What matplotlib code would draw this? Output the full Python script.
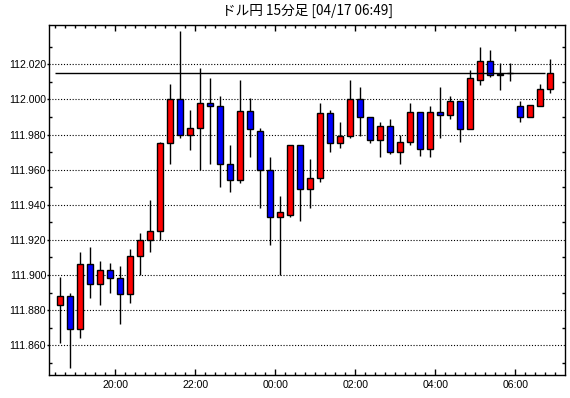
import matplotlib
matplotlib.use("Agg")
import matplotlib.pyplot as plt
import numpy as np
from matplotlib.ticker import FixedLocator, FormatStrFormatter

# ---- data (15-minute candles, USD/JPY) ----
times = ["18:30", "18:45", "19:00", "19:15", "19:30", "19:45", "20:00", "20:15",
         "20:30", "20:45", "21:00", "21:15", "21:30", "21:45", "22:00", "22:15",
         "22:30", "22:45", "23:00", "23:15", "23:30", "23:45", "00:00", "00:15",
         "00:30", "00:45", "01:00", "01:15", "01:30", "01:45", "02:00", "02:15",
         "02:30", "02:45", "03:00", "03:15", "03:30", "03:45", "04:00", "04:15",
         "04:30", "04:45", "05:00", "05:15", "05:30", "05:45", "06:00", "06:15",
         "06:30", "06:45"]
opens = [111.883, 111.888, 111.869, 111.906, 111.895, 111.903, 111.898, 111.889,
         111.911, 111.920, 111.925, 111.975, 112.000, 111.980, 111.9835, 111.998,
         111.9965, 111.9635, 111.954, 111.9935, 111.982, 111.960, 111.933, 111.934,
         111.974, 111.949, 111.955, 111.9925, 111.975, 111.979, 112.0005, 111.990,
         111.977, 111.985, 111.970, 111.9755, 111.993, 111.972, 111.993, 111.991,
         111.999, 111.983, 112.011, 112.0217, 112.0137, 112.015, 111.996, 111.990,
         111.9965, 112.0057]
highs = [111.899, 111.890, 111.913, 111.916, 111.908, 111.907, 111.905, 111.915,
         111.924, 111.943, 111.976, 112.009, 112.039, 111.994, 112.018, 112.012,
         112.002, 111.974, 112.011, 112.001, 111.9835, 111.967, 111.945, 111.974,
         111.974, 111.966, 111.998, 111.994, 111.987, 112.011, 112.007, 111.990,
         111.987, 111.989, 111.980, 111.998, 111.993, 111.996, 112.007, 112.002,
         111.999, 112.0166, 112.030, 112.028, 112.021, 112.021, 111.999, 111.9967,
         112.0088, 112.023]
lows = [111.861, 111.847, 111.864, 111.887, 111.883, 111.890, 111.872, 111.884,
        111.900, 111.913, 111.920, 111.963, 111.978, 111.971, 111.960, 111.963,
        111.950, 111.9475, 111.9525, 111.967, 111.938, 111.917, 111.900, 111.933,
        111.9305, 111.938, 111.9527, 111.970, 111.9725, 111.978, 111.979, 111.9754,
        111.967, 111.969, 111.963, 111.974, 111.968, 111.967, 111.978, 111.989,
        111.976, 111.983, 112.0084, 112.0126, 112.0055, 112.0107, 111.987, 111.990,
        111.996, 112.0038]
closes = [111.888, 111.869, 111.906, 111.895, 111.903, 111.898, 111.889, 111.911,
          111.920, 111.925, 111.975, 112.000, 111.980, 111.9835, 111.998, 111.9965,
          111.9635, 111.954, 111.9935, 111.983, 111.960, 111.933, 111.936, 111.974,
          111.949, 111.955, 111.9925, 111.975, 111.979, 112.0005, 111.990, 111.977,
          111.985, 111.970, 111.9755, 111.993, 111.972, 111.993, 111.991, 111.999,
          111.983, 112.012, 112.0217, 112.0137, 112.0147, 112.015, 111.990, 111.9967,
          112.0057, 112.0149]
y_labels = [111.860, 111.880, 111.900, 111.920, 111.940, 111.960, 111.980, 112.000, 112.020]
y_minor = [111.850, 111.870, 111.890, 111.910, 111.930, 111.950, 111.970, 111.990,
           112.010, 112.030]
hour_labels = ["20:00", "22:00", "00:00", "02:00", "04:00", "06:00"]
title = "ドル円 15分足 [04/17 06:49]"

# ---- figure ----
fig = plt.figure(figsize=(5.70, 3.98), dpi=100)
fig.patch.set_facecolor("white")
ax = fig.add_axes([49.3 / 570, 1 - 374.5 / 398, (565 - 49.3) / 570, (374.5 - 24.7) / 398])

x = np.arange(len(times))
o = np.array(opens)
c = np.array(closes)
up = c >= o
colors = np.where(up, "#FF0000", "#0000FF")

ax.vlines(x, lows, highs, color="black", linewidth=1.0, zorder=2)
body_bottom = np.minimum(o, c)
body_h = np.abs(c - o)
ax.bar(x, body_h, bottom=body_bottom, width=0.62, color=colors,
       edgecolor="black", linewidth=1.0, zorder=3)

# current price line
ax.hlines(closes[-1], -0.5, len(times) - 1.5, color="black", linewidth=1.0, zorder=4)

ax.set_xlim(-1.1, 50.47)
ax.set_ylim(111.8433, 112.0426)

# y ticks
ax.yaxis.set_major_locator(FixedLocator(y_labels))
ax.yaxis.set_minor_locator(FixedLocator(y_minor))
ax.yaxis.set_major_formatter(FormatStrFormatter("%.3f"))
ax.tick_params(axis="y", which="major", direction="out", length=1.5, width=1,
               pad=0.8, labelsize=7.6, left=True, right=False)
ax.tick_params(axis="y", which="minor", direction="in", length=2.5, width=1,
               left=True, right=True)
ax.grid(axis="y", which="major", color="black", linestyle=(0, (1, 1.6)), linewidth=0.8)

# x ticks
major_pos = [times.index(h) - 0.5 for h in hour_labels]
ax.xaxis.set_major_locator(FixedLocator(major_pos))
ax.xaxis.set_minor_locator(FixedLocator(np.arange(-0.5, 50.5, 1.0)))
ax.set_xticklabels(hour_labels)
ax.tick_params(axis="x", which="major", direction="in", length=4, width=1,
               pad=4, labelsize=7.6, top=True, bottom=True)
ax.tick_params(axis="x", which="minor", direction="in", length=2, width=1,
               top=True, bottom=True)

for lab in ax.get_xticklabels() + ax.get_yticklabels():
    lab.set_family(["Liberation Sans", "DejaVu Sans"])

for s in ax.spines.values():
    s.set_linewidth(1.0)
    s.set_color("black")
ax.set_axisbelow(True)

fig.text((49.3 + 565) / 2 / 570, 1 - 11 / 398, title, ha="center", va="center",
         fontsize=9.8, family=["Noto Sans CJK JP", "DejaVu Sans"])

fig.savefig("out.png", dpi=100)
